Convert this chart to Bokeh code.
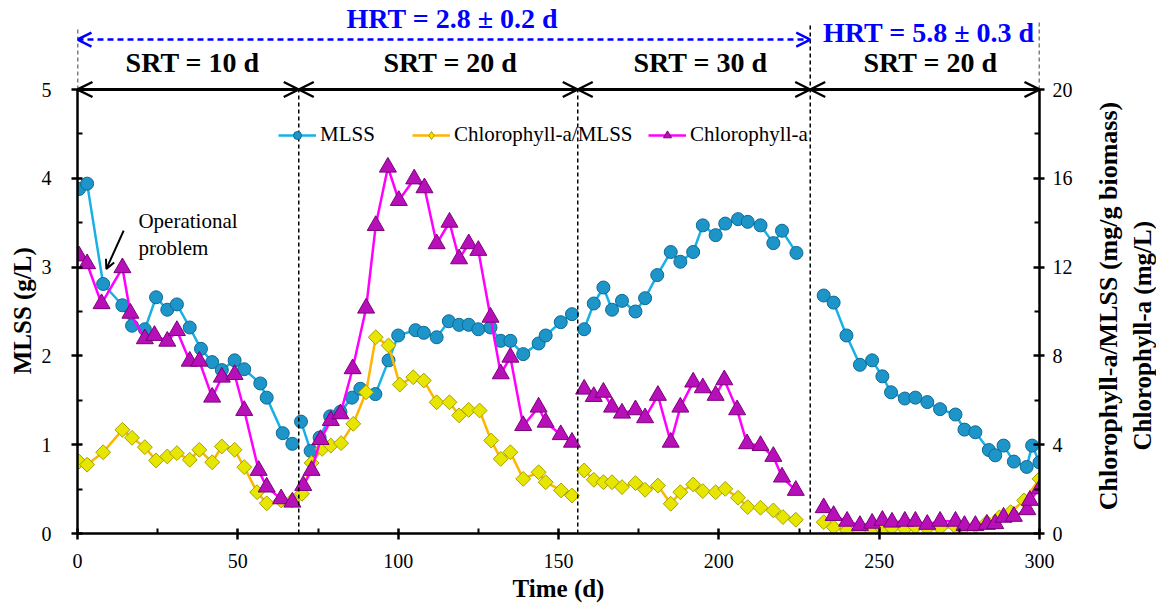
import math
from bokeh.plotting import figure
from bokeh.layouts import row
from bokeh.models import (Range1d, LinearAxis, FixedTicker, Label, Arrow, OpenHead,
                          Legend, LegendItem)
from bokeh.embed import file_html
from bokeh.resources import INLINE

NaN = float("nan")

# ---------------- data ----------------
# MLSS (g/L), left axis; NaN separates operating phases
mlss_day = [0.5, 3, 8, 14, 17, 21, 24.5, 28, 31, 35, 38.5, 42, 45, 49, 52, 57, 59, 64, 67, NaN,
            69.7, 72.7, 75.5, 78.8, 82, 85.6, 88.2, 92.9, 97, 100, 105.4, 108, 112, 115.8, 119, 122,
            125, 128.8, 132, 135, 139, 143.8, 146, 150.7, 154.2, NaN,
            158, 161, 164, 166.7, 169.8, 174, 177, 180.8, 185, 188, 192, 195, 199, 202, 206, 209,
            213, 217, 219.7, 224.2, NaN,
            232.7, 235.8, 239.8, 244, 247.8, 251, 253.7, 258, 261.3, 265, 269, 273.8, 276.6, 280,
            284.2, 286.2, 288.8, 292, 296, 297.7, 300]
mlss_val = [3.88, 3.94, 2.81, 2.57, 2.34, 2.30, 2.66, 2.52, 2.58, 2.32, 2.08, 1.93, 1.84, 1.95, 1.85,
            1.69, 1.53, 1.13, 1.01, NaN,
            1.26, 0.93, 1.08, 1.32, 1.37, 1.53, 1.63, 1.57, 1.95, 2.23, 2.29, 2.26, 2.21, 2.39, 2.35,
            2.35, 2.30, 2.32, 2.17, 2.17, 2.02, 2.14, 2.23, 2.38, 2.47, NaN,
            2.30, 2.59, 2.77, 2.52, 2.62, 2.50, 2.65, 2.91, 3.17, 3.06, 3.17, 3.47, 3.36, 3.49, 3.54,
            3.51, 3.47, 3.27, 3.41, 3.16, NaN,
            2.68, 2.60, 2.23, 1.90, 1.95, 1.77, 1.59, 1.52, 1.53, 1.48, 1.40, 1.34, 1.17, 1.14, 0.94,
            0.88, 0.99, 0.81, 0.75, 0.99, 0.80]

# Chlorophyll-a/MLSS (mg/g biomass), right axis
ratio_day = [0.5, 3, 8, 14, 17, 21, 24.5, 28, 31, 35, 38, 42, 45, 49, 52, 56, 59, 63.5, 67, NaN,
             70, 73, 76.3, 79, 82.2, 86, 90, 93, 97, 100.5, 104.7, 108, 112, 116, 119, 122, 125.4,
             129, 132, 135, 139, 143.8, 146, 150.8, 154.2, NaN,
             158, 161, 164, 166.7, 169.8, 174, 177, 181, 185, 188, 192, 195, 199, 202, 206, 209,
             213, 217, 220, 224, NaN,
             232.7, 235.8, 240, 244, 247.8, 251, 254, 258, 261.3, 265, 269, 273.8, 276.6, 280,
             283.6, 287.5, 291, 295.2, 300]
ratio_val = [3.24, 3.10, 3.66, 4.67, 4.31, 3.89, 3.29, 3.47, 3.62, 3.32, 3.77, 3.21, 3.92, 3.77, 2.99,
             1.86, 1.36, 1.49, 1.49, NaN,
             1.79, 3.18, 3.81, 3.96, 4.07, 4.94, 6.36, 8.84, 8.47, 6.71, 7.04, 6.89, 5.91, 5.91, 5.32,
             5.57, 5.54, 4.19, 3.36, 3.66, 2.46, 2.76, 2.31, 1.94, 1.71, NaN,
             2.84, 2.42, 2.31, 2.31, 2.09, 2.27, 1.97, 2.16, 1.34, 1.86, 2.21, 1.91, 1.86, 2.01, 1.61,
             1.19, 1.16, 1.04, 0.74, 0.62, NaN,
             0.51, 0.28, 0.14, 0.10, 0.12, 0.20, 0.25, 0.20, 0.30, 0.22, 0.25, 0.30, 0.28, 0.35, 0.51,
             0.73, 0.96, 1.49, 2.46]

# Chlorophyll-a (mg/L), right axis
chla_day = [0.5, 3, 7.5, 14, 16.5, 21, 24, 28, 31, 35, 38, 42, 45, 49, 52, 56.5, 59, 63.5, 67, NaN,
            70.4, 73, 75.8, 79, 82, 85.8, 90, 93, 96.8, 100.2, 105, 108.2, 112, 116, 119, 122, 125,
            128.8, 132, 135, 139, 143.8, 146, 150.7, 154.2, NaN,
            158, 161, 164, 166.7, 169.8, 174, 177, 181, 185, 188, 192, 195, 199, 201.7, 205.7, 208.8,
            213, 217, 219.7, 224, NaN,
            232.7, 235.8, 240, 244, 247.8, 251, 254, 258, 261.3, 265, 269, 273.8, 276.6, 280, 283.6,
            286.2, 288.8, 292, 296.2, 297, 300]
chla_val = [12.5, 12.15, 10.35, 11.97, 9.92, 8.77, 8.92, 8.66, 9.14, 7.76, 7.76, 6.14, 7.04, 7.16, 5.54,
            2.84, 2.09, 1.56, 1.41, NaN,
            2.16, 2.84, 4.23, 5.09, 5.39, 7.42, 10.15, 13.87, 16.5, 15.0, 15.97, 15.57, 13.05, 14.02,
            12.37, 13.05, 12.75, 9.74, 7.19, 7.94, 4.86, 5.69, 5.01, 4.45, 4.11, NaN,
            6.50, 6.17, 6.36, 5.69, 5.42, 5.57, 5.21, 6.22, 4.11, 5.69, 6.82, 6.56, 6.22, 6.92, 5.57,
            4.04, 3.96, 3.47, 2.54, 1.94, NaN,
            1.16, 0.81, 0.55, 0.36, 0.46, 0.59, 0.51, 0.55, 0.55, 0.41, 0.55, 0.55, 0.36, 0.36, 0.41,
            0.44, 0.73, 0.77, 1.07, 1.49, 2.01]

# operating phases
phase_bounds = [0, 69, 156, 228.5, 300]
srt_labels = ["SRT = 10 d", "SRT = 20 d", "SRT = 30 d", "SRT = 20 d"]
hrt_labels = ["HRT = 2.8 \u00b1 0.2 d", "HRT = 5.8 \u00b1 0.3 d"]
right_titles = ["Chlorophyll-a/MLSS (mg/g biomass)", "Chlorophyll-a (mg/L)"]

x_ticks = [0, 50, 100, 150, 200, 250, 300]
left_ticks = [0, 1, 2, 3, 4, 5]
right_ticks = [0, 4, 8, 12, 16, 20]

# ---------------- main figure ----------------
FONT = "Liberation Serif"
Y_TOP = 6.0023          # left axis units at top of the canvas (axis itself spans 0..5)
R_SCALE = 4.0           # right axis = 4 x left axis
W_MAIN = 1086
W_SIDE = 1156 - W_MAIN
H = 611
B_BOTTOM = 78
NBSP = "\u00a0"

p = figure(width=W_MAIN, height=H, output_backend="svg", toolbar_location=None,
           x_range=Range1d(0, 300), y_range=Range1d(0, Y_TOP),
           min_border_left=77, min_border_right=W_MAIN - 1039, min_border_top=0,
           min_border_bottom=B_BOTTOM, background_fill_color="white", border_fill_color="white")
p.outline_line_color = None
p.grid.visible = False
p.extra_y_ranges = {"right": Range1d(0, Y_TOP * R_SCALE)}

def style_axis(ax):
    ax.axis_line_width = 2.5
    ax.axis_line_color = "black"
    ax.major_tick_line_width = 2.5
    ax.minor_tick_line_width = 2
    ax.major_tick_line_color = "black"
    ax.minor_tick_line_color = "black"
    ax.major_label_text_font = FONT
    ax.major_label_text_font_size = "20px"
    ax.major_label_text_color = "black"
    ax.axis_label_text_font = FONT
    ax.axis_label_text_font_style = "bold"
    ax.axis_label_text_font_size = "25px"
    ax.axis_label_text_color = "black"

xa = p.xaxis[0]
style_axis(xa)
xa.ticker = FixedTicker(ticks=x_ticks, minor_ticks=[25, 75, 125, 175, 225, 275])
xa.major_tick_in = 5
xa.major_tick_out = 6
xa.minor_tick_in = 5
xa.minor_tick_out = 0
xa.major_label_standoff = 14
xa.axis_label = "Time (d)"
xa.axis_label_standoff = 4

ya = p.yaxis[0]
style_axis(ya)
ya.bounds = (0, 5)
ya.ticker = FixedTicker(ticks=left_ticks, minor_ticks=[0.5, 1.5, 2.5, 3.5, 4.5])
ya.major_tick_in = 5
ya.major_tick_out = 6
ya.minor_tick_in = 5
ya.minor_tick_out = 0
ya.major_label_standoff = 20
# trailing no-break spaces move the centred title down to the middle of the 0-5 axis
ya.axis_label = "MLSS (g/L)" + NBSP * 14
ya.axis_label_standoff = 3

ra = LinearAxis(y_range_name="right", bounds=(0, 20),
                ticker=FixedTicker(ticks=right_ticks, minor_ticks=[2, 6, 10, 14, 18]))
style_axis(ra)
ra.major_tick_in = 6
ra.major_tick_out = 5
ra.minor_tick_in = 5
ra.minor_tick_out = 0
ra.major_label_standoff = 8
p.add_layout(ra, "right")

# ---------------- data series ----------------
r_mlss_l = p.line(mlss_day, mlss_val, line_color="#19b0e6", line_width=2.5)
r_mlss_m = p.scatter(mlss_day, mlss_val, marker="circle", size=13,
                     fill_color="#1d95c9", line_color="#0e6a94", line_width=1)

r_ratio_l = p.line(ratio_day, ratio_val, y_range_name="right", line_color="#ffb400", line_width=2.5)
p.scatter(ratio_day, ratio_val, y_range_name="right", marker="square", angle=math.pi / 4,
          size=10.5, fill_color="#e6e600", line_color="#a6a000", line_width=1)
# legend-only diamond glyph (nothing drawn in the plot area)
r_ratio_leg = p.scatter([NaN], [NaN], y_range_name="right", marker="diamond", size=17,
                        fill_color="#e6e600", line_color="#a6a000", line_width=1)

r_chla_l = p.line(chla_day, chla_val, y_range_name="right", line_color="#ff00ff", line_width=2.5)
r_chla_m = p.scatter(chla_day, chla_val, y_range_name="right", marker="triangle", size=17,
                     fill_color="#b810b8", line_color="#7a007a", line_width=1)

# ---------------- legend (three separate boxes) ----------------
def add_leg(label, rends, x_off):
    lg = Legend(items=[LegendItem(label=label, renderers=rends)], location=(x_off, 386),
                orientation="horizontal", padding=0, margin=0, border_line_color=None,
                background_fill_alpha=0, glyph_width=38, glyph_height=20, label_height=20,
                label_standoff=4, label_text_font=FONT, label_text_font_size="21px",
                label_text_color="black")
    p.add_layout(lg, "center")

add_leg("MLSS", [r_mlss_l, r_mlss_m], 201)
add_leg("Chlorophyll-a/MLSS", [r_ratio_l, r_ratio_leg], 335)
add_leg("Chlorophyll-a", [r_chla_l, r_chla_m], 571)

# ---------------- phase markers ----------------
p.segment(x0=[phase_bounds[0], phase_bounds[1], phase_bounds[2], phase_bounds[3], phase_bounds[4]],
          y0=[5, 0, 0, 0, 5],
          x1=[phase_bounds[0], phase_bounds[1], phase_bounds[2], phase_bounds[3], phase_bounds[4]],
          y1=[5.71, 5, 5, 5.755, 5.755],
          line_color="black", line_width=1.5, line_dash="4 3")

srt_text_x = [35.9, 116.3, 194.3, 266.0]
for i in range(4):
    p.add_layout(Arrow(x_start=phase_bounds[i], y_start=5, x_end=phase_bounds[i + 1], y_end=5,
                       line_color="black", line_width=3,
                       start=OpenHead(size=15, line_width=2.5, line_color="black"),
                       end=OpenHead(size=15, line_width=2.5, line_color="black")))
    p.add_layout(Label(x=srt_text_x[i], y=5.30, text=srt_labels[i], text_align="center",
                       text_baseline="middle", text_font=FONT, text_font_style="bold",
                       text_font_size="28px", text_color="black"))

p.add_layout(Arrow(x_start=phase_bounds[0], y_start=5.563, x_end=phase_bounds[3], y_end=5.563,
                   line_color="#0000ff", line_width=2.5, line_dash="6 4",
                   start=OpenHead(size=14, line_width=2.5, line_color="#0000ff"),
                   end=OpenHead(size=14, line_width=2.5, line_color="#0000ff")))
p.add_layout(Label(x=116.9, y=5.80, text=hrt_labels[0], text_align="center", text_baseline="middle",
                   text_font=FONT, text_font_style="bold", text_font_size="28px",
                   text_color="#0000ff"))
p.add_layout(Label(x=265.5, y=5.64, text=hrt_labels[1], text_align="center", text_baseline="middle",
                   text_font=FONT, text_font_style="bold", text_font_size="28px",
                   text_color="#0000ff"))

p.add_layout(Label(x=19.0, y=3.514, text="Operational", text_align="left", text_baseline="middle",
                   text_font=FONT, text_font_size="21px", text_color="black"))
p.add_layout(Label(x=19.0, y=3.21, text="problem", text_align="left", text_baseline="middle",
                   text_font=FONT, text_font_size="21px", text_color="black"))
p.add_layout(Arrow(x_start=14.4, y_start=3.41, x_end=9.0, y_end=2.98, line_color="black",
                   line_width=2, end=OpenHead(size=9, line_width=2, line_color="black")))

# ---------------- side strip carrying the two-line right-hand axis title ----------------
# same top/bottom borders as the main figure (the row aligns them); a 1-px frame at the far
# right; the two titles are carried by bare left-hand axes so that they read bottom-to-top
side = figure(width=W_SIDE, height=H, output_backend="svg", toolbar_location=None,
              x_range=Range1d(0, 1), y_range=Range1d(0, 1),
              x_axis_type=None, y_axis_type=None,
              min_border_left=W_SIDE - 1, min_border_right=0, min_border_top=0,
              min_border_bottom=B_BOTTOM, background_fill_color="white",
              border_fill_color="white")
side.outline_line_color = None
side.grid.visible = False

def bare_axis(text, size, standoff):
    ax = LinearAxis(ticker=FixedTicker(ticks=[]))
    style_axis(ax)
    ax.axis_line_color = None
    ax.major_tick_in = 0
    ax.major_tick_out = 0
    ax.minor_tick_in = 0
    ax.minor_tick_out = 0
    ax.major_label_standoff = 0
    ax.major_label_text_font_size = "0px"
    ax.axis_label = text
    ax.axis_label_text_font_size = size
    ax.axis_label_standoff = standoff
    return ax

# inner (right-most) line first, then the outer line; trailing no-break spaces lower them
side.add_layout(bare_axis(right_titles[1] + NBSP * 22, "25px", 0), "left")
side.add_layout(bare_axis(right_titles[0] + NBSP * 12, "26px", 3), "left")

layout = row(p, side, spacing=0)
open("out.html", "w").write(file_html(layout, INLINE))
